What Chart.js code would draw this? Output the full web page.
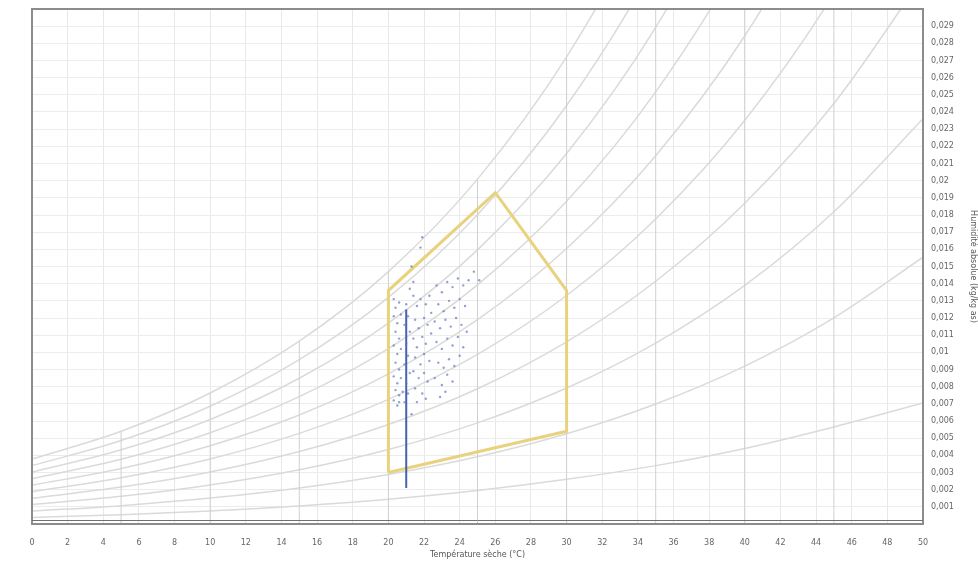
<!DOCTYPE html>
<html>
<head>
<meta charset="utf-8">
<script src="https://cdn.jsdelivr.net/npm/chart.js@4/dist/chart.umd.min.js"></script>
<style>
  html, body { margin: 0; padding: 0; background: #fff; }
  #wrap { width: 978px; height: 562px; position: relative; }
</style>
</head>
<body>
<div id="wrap"><canvas id="c" width="978" height="562"></canvas></div>
<script>
// ── Data ──────────────────────────────────────────────────────────────────
// dry-bulb temperatures (°C) at which the humidity curves are read
const temps = [0, 5, 10, 15, 20, 25, 30, 35, 40, 45, 50]

// absolute humidity (kg/kg) along each relative humidity curve
const rh10  = [0.00038, 0.00054, 0.00076, 0.00105, 0.00144, 0.00195, 0.00260, 0.00340, 0.00440, 0.00565, 0.00705]
const rh20  = [0.00075, 0.00107, 0.00151, 0.00210, 0.00289, 0.00392, 0.00526, 0.00699, 0.00920, 0.01201, 0.01554]
const rh30  = [0.00113, 0.00161, 0.00227, 0.00316, 0.00434, 0.00589, 0.00792, 0.01054, 0.01390, 0.01819, 0.02361]
const rh40  = [0.00150, 0.00215, 0.00303, 0.00422, 0.00580, 0.00788, 0.01061, 0.01414, 0.01868, 0.02449, 0.03188]
const rh50  = [0.00188, 0.00269, 0.00379, 0.00528, 0.00726, 0.00988, 0.01331, 0.01777, 0.02352, 0.03091, 0.04037]
const rh60  = [0.00226, 0.00323, 0.00456, 0.00635, 0.00874, 0.01190, 0.01605, 0.02145, 0.02844, 0.03747, 0.04908]
const rh70  = [0.00264, 0.00377, 0.00532, 0.00742, 0.01022, 0.01393, 0.01880, 0.02517, 0.03344, 0.04415, 0.05802]
const rh80  = [0.00302, 0.00432, 0.00609, 0.00849, 0.01170, 0.01597, 0.02158, 0.02893, 0.03851, 0.05098, 0.06721]
const rh90  = [0.00340, 0.00486, 0.00686, 0.00957, 0.01320, 0.01802, 0.02438, 0.03273, 0.04366, 0.05794, 0.07665]
const rh100 = [0.00378, 0.00540, 0.00763, 0.01065, 0.01470, 0.02009, 0.02721, 0.03659, 0.04889, 0.06506, 0.08634]
const rhCurves = [rh10, rh20, rh30, rh40, rh50, rh60, rh70, rh80, rh90, rh100]

// dry-bulb lines drawn from 0 up to saturation
const dryBulbT = [5, 10, 15, 20, 25, 30, 35, 40, 45]

// comfort zone outline
const zoneT = [20, 20, 26, 30, 30, 20]
const zoneW = [0.0030, 0.0136, 0.0193, 0.0136, 0.0054, 0.0030]

// vertical run of readings at 21 °C
const runT = [21, 21]
const runW = [0.0021, 0.0125]

// measured points
const ptsT = [
  20.3, 20.4, 20.6, 20.3, 20.5, 20.7, 20.4, 20.6, 20.3, 20.5, 20.7, 20.4, 20.6, 20.3, 20.5, 20.7, 20.4, 20.6, 20.3, 20.5, 20.8, 20.6,
  21.0, 21.1, 20.9, 21.2, 21.0, 21.1, 20.9, 21.2, 21.0, 21.1, 20.9,
  21.4, 21.6, 21.8, 22.1, 22.3, 21.5, 21.7, 22.0, 22.2, 22.4, 21.4, 21.6, 21.9, 22.1, 22.4, 21.5, 21.8, 22.0, 22.3, 21.4, 21.7, 22.0, 22.2, 21.5, 21.9, 21.6, 22.1, 21.3,
  22.7, 23.0, 23.3, 23.6, 23.9, 24.2, 24.5, 22.8, 23.1, 23.4, 23.7, 24.0, 24.3, 22.6, 22.9, 23.2, 23.5, 23.8, 24.1, 24.4,
  22.7, 23.0, 23.3, 23.6, 23.9, 24.2, 22.8, 23.1, 23.4, 23.7, 24.0, 22.6, 23.0, 23.3, 23.6, 22.9, 23.2,
  21.9, 21.8, 21.3, 21.4, 21.2, 24.8, 25.1
]
const ptsW = [
  0.0131, 0.0126, 0.0129, 0.0121, 0.0117, 0.0122, 0.0112, 0.0108, 0.0104, 0.0099, 0.0102, 0.0094, 0.0090, 0.0086, 0.0082, 0.0085, 0.0078, 0.0075, 0.0072, 0.0069, 0.0077, 0.0071,
  0.0128, 0.0121, 0.0116, 0.0112, 0.0105, 0.0098, 0.0093, 0.0088, 0.0082, 0.0076, 0.0071,
  0.0133, 0.0127, 0.0131, 0.0128, 0.0133, 0.0119, 0.0114, 0.0120, 0.0116, 0.0123, 0.0108, 0.0103, 0.0109, 0.0105, 0.0111, 0.0097, 0.0093, 0.0099, 0.0095, 0.0089, 0.0085, 0.0088, 0.0083, 0.0079, 0.0076, 0.0071, 0.0073, 0.0064,
  0.0139, 0.0135, 0.0141, 0.0138, 0.0143, 0.0139, 0.0142, 0.0128, 0.0124, 0.0130, 0.0126, 0.0131, 0.0127, 0.0118, 0.0114, 0.0119, 0.0115, 0.0120, 0.0116, 0.0112,
  0.0106, 0.0102, 0.0108, 0.0104, 0.0109, 0.0103, 0.0094, 0.0091, 0.0096, 0.0092, 0.0098, 0.0085, 0.0081, 0.0087, 0.0083, 0.0074, 0.0077,
  0.0167, 0.0161, 0.0150, 0.0141, 0.0137, 0.0147, 0.0142
]

// axis range
const xMin = 0, xMax = 50, xStep = 2
const yMin = 0, yMax = 0.030, yStep = 0.001

// ── Datasets ──────────────────────────────────────────────────────────────
const pair = (xs, ys) => xs.map((x, i) => ({ x, y: ys[i] }))

const datasets = []
datasets.push({
  label: 'points', data: pair(ptsT, ptsW), order: 0,
  pointRadius: 1.2, pointBorderWidth: 0, pointBackgroundColor: 'rgba(100,120,195,0.7)', showLine: false
})
datasets.push({
  label: 'run21', data: pair(runT, runW), order: 1,
  showLine: true, pointRadius: 0, borderColor: '#4462b0', borderWidth: 2
})
datasets.push({
  label: 'zone', data: pair(zoneT, zoneW), order: 2,
  showLine: true, pointRadius: 0, borderColor: '#e8d27e', borderWidth: 3, tension: 0
})
dryBulbT.forEach(t => {
  const i = temps.indexOf(t)
  datasets.push({
    label: 'db' + t, data: [{ x: t, y: 0 }, { x: t, y: rh100[i] }], order: 3,
    showLine: true, pointRadius: 0, borderColor: '#d0d0d0', borderWidth: 1
  })
})
rhCurves.forEach((arr, k) => {
  datasets.push({
    label: 'rh' + (k + 1) * 10, data: pair(temps, arr), order: 4,
    showLine: true, pointRadius: 0, borderColor: '#dadada', borderWidth: 1.5,
    cubicInterpolationMode: 'monotone'
  })
})

// frame round the plot area
const frame = {
  id: 'frame',
  beforeDraw(chart) {
    const c = chart.ctx
    c.save(); c.fillStyle = '#fff'; c.fillRect(0, 0, chart.width, chart.height); c.restore()
  },
  afterDraw(chart) {
    const a = chart.chartArea, c = chart.ctx
    c.save()
    c.strokeStyle = '#8c8c8c'
    c.lineWidth = 2
    c.strokeRect(a.left, a.top, a.right - a.left, a.bottom - a.top)
    c.strokeStyle = '#707070'
    c.lineWidth = 1
    c.beginPath(); c.moveTo(a.left, a.bottom - 3.5); c.lineTo(a.right, a.bottom - 3.5); c.stroke()
    c.restore()
  }
}

const fontTick = { family: 'DejaVu Sans', size: 8 }

new Chart(document.getElementById('c'), {
  type: 'scatter',
  data: { datasets },
  plugins: [frame],
  options: {
    responsive: false,
    animation: false,
    layout: { padding: { left: 32, top: 9, right: 0, bottom: 0 } },
    plugins: { legend: { display: false }, tooltip: { enabled: false } },
    scales: {
      x: {
        type: 'linear', position: 'bottom', min: xMin, max: xMax,
        afterFit: s => { s.height = 38; s.paddingRight = 0 },
        ticks: { stepSize: xStep, autoSkip: false, maxRotation: 0, color: '#666', font: fontTick, padding: 14 },
        grid: { color: '#e8e8e8', drawTicks: false },
        border: { display: false },
        title: { display: true, text: 'Température sèche (°C)', color: '#555', font: fontTick, padding: { top: 0, bottom: 2 } }
      },
      y: {
        type: 'linear', position: 'right', min: yMin, max: yMax,
        afterFit: s => { s.width = 55; s.paddingTop = 0; s.paddingBottom = 0 },
        ticks: {
          stepSize: yStep, autoSkip: false, maxTicksLimit: 100, color: '#666', font: fontTick, padding: 8,
          callback: v => (v <= 0 || v >= yMax - 1e-9) ? '' : String(Number(v.toFixed(3))).replace('.', ',')
        },
        grid: { color: '#ececec', drawTicks: false },
        border: { display: false },
        title: { display: true, text: 'Humidité absolue (kg/kg as)', color: '#555', font: fontTick, padding: { top: 0, bottom: 4 } }
      }
    }
  }
})
</script>
</body>
</html>
